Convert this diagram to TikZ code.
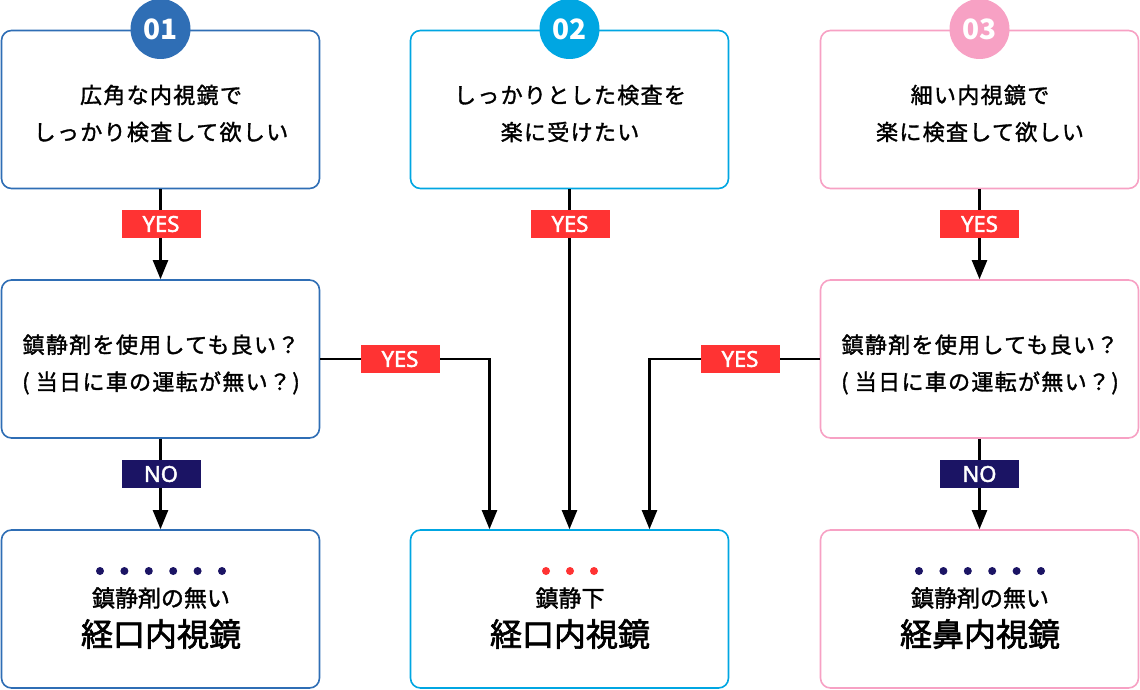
\documentclass[tikz,border=0pt]{standalone}
\usepackage{fontspec}
\setmainfont{Noto Sans CJK JP}
\newfontfamily\jpq[LetterSpace=6, FakeBold=1.5]{Noto Sans CJK JP}
\newfontfamily\jpm[FakeBold=1.5]{Noto Sans CJK JP}
\newfontfamily\jpbig[FakeBold=2]{Noto Sans CJK JP}
\newfontfamily\lat[FakeBold=2]{Noto Sans}
\usetikzlibrary{arrows.meta}
\definecolor{cA}{HTML}{2F6EB5}
\definecolor{cB}{HTML}{00A6E2}
\definecolor{cC}{HTML}{F7A1C4}
\definecolor{yesred}{HTML}{FF3333}
\definecolor{navy}{HTML}{1B1464}
\tikzset{
  box/.style={draw, line width=1.6pt, rounded corners=10pt, minimum width=318pt, minimum height=158pt, inner sep=0pt, fill=white},
  num/.style={circle, minimum size=60pt, inner sep=0pt, text=white, font=\fontsize{28}{30}\selectfont\bfseries},
  qtext/.style={align=center, font=\jpq\fontsize{22}{37}\selectfont, inner sep=0pt},
  small/.style={font=\jpm\fontsize{23}{26}\selectfont, inner sep=0pt},
  big/.style={font=\jpbig\fontsize{32}{36}\selectfont, inner sep=0pt},
  lab/.style={minimum width=79pt, minimum height=28pt, inner sep=0pt, text=white, font=\lat\fontsize{22}{23}\selectfont},
  yes/.style={lab, fill=yesred},
  no/.style={lab, fill=navy},
  arr/.style={draw, line width=2.2pt, -{Triangle[width=15pt,length=19pt]}},
  dot/.style={circle, minimum size=8pt, inner sep=0pt},
}
\begin{document}
\begin{tikzpicture}[x=1pt,y=-1pt]
\useasboundingbox (0,0) rectangle (1140,690);
% boxes
\node[box, draw=cA] (q1) at (160.5,109.5) {};
\node[box, draw=cB] (q2) at (569.5,109.5) {};
\node[box, draw=cC] (q3) at (979.5,109.5) {};
\node[box, draw=cA] (m1) at (160.5,359) {};
\node[box, draw=cC] (m3) at (979.5,359) {};
\node[box, draw=cA] (r1) at (160.5,609) {};
\node[box, draw=cB] (r2) at (569.5,609) {};
\node[box, draw=cC] (r3) at (979.5,609) {};
% numbers
\node[num, fill=cA] (n1) at (160.5,29) {01};
\node[num, fill=cB] (n2) at (569.5,29) {02};
\node[num, fill=cC] (n3) at (979.5,29) {03};
% texts
\node[qtext] (t1) at (161,113.5) {広角な内視鏡で\\しっかり検査して欲しい};
\node[qtext] (t2) at (570,113.5) {しっかりとした検査を\\楽に受けたい};
\node[qtext] (t3) at (980,113.5) {細い内視鏡で\\楽に検査して欲しい};
\node[qtext] (tm1) at (161,364.5) {鎮静剤を使用しても良い？\\( 当日に車の運転が無い？)};
\node[qtext] (tm3) at (980,364.5) {鎮静剤を使用しても良い？\\( 当日に車の運転が無い？)};
\node[small] (s1) at (161,598) {鎮静剤の無い};
\node[big] (b1) at (161,634) {経口内視鏡};
\node[small] (s2) at (570,598) {鎮静下};
\node[big] (b2) at (570,634) {経口内視鏡};
\node[small] (s3) at (980,598) {鎮静剤の無い};
\node[big] (b3) at (980,634) {経鼻内視鏡};
% dots
\foreach \i in {0,...,5} {
  \node[dot, fill=navy] (da\i) at (100+24.4*\i,571) {};
  \node[dot, fill=navy] (dc\i) at (919+24.4*\i,571) {};
}
\foreach \i in {0,1,2} {
  \node[dot, fill=yesred] (db\i) at (546+24*\i,571) {};
}
% connectors
\draw[arr] (q1.south) -- (m1.north);
\draw[arr] (q3.south) -- (m3.north);
\draw[arr] (q2.south) -- (r2.north);
\draw[arr] (m1.south) -- (r1.north);
\draw[arr] (m3.south) -- (r3.north);
\draw[arr] (m1.east) -| ([xshift=-80pt]r2.north);
\draw[arr] (m3.west) -| ([xshift=80pt]r2.north);
% labels
\node[yes] (y1) at (161,224) {YES};
\node[yes] (y2) at (570,224) {YES};
\node[yes] (y3) at (979.5,224) {YES};
\node[yes] (y4) at (400,359) {YES};
\node[yes] (y5) at (740,359) {YES};
\node[no] (o1) at (161,474) {NO};
\node[no] (o3) at (979.5,474) {NO};
\end{tikzpicture}
\end{document}
